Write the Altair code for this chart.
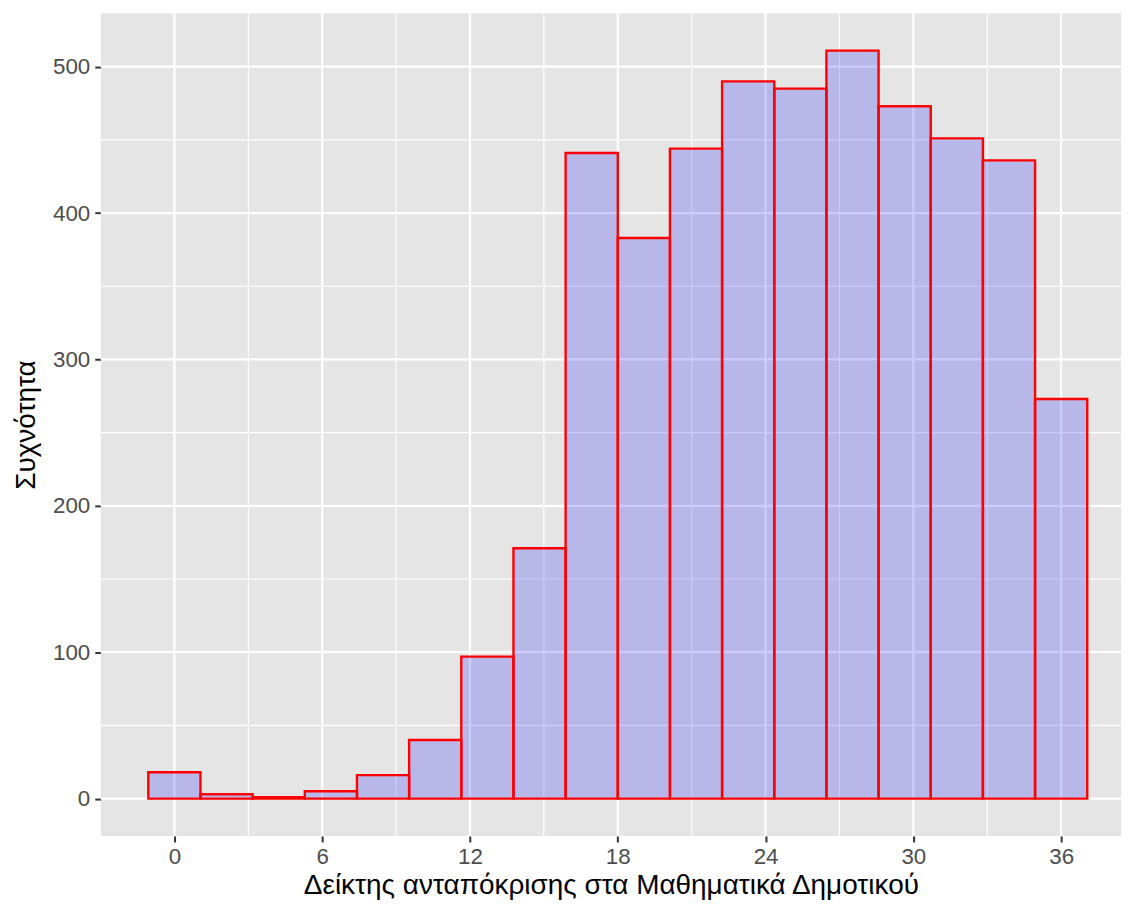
import altair as alt
import pandas as pd

# Histogram data (ggplot2-style, 18 bins centred on 0 ... 36)
binwidth = 36 / 17
bin_index = list(range(18))
counts = [18, 3, 1, 5, 16, 40, 97, 171, 441, 383, 444, 490, 485, 511, 473, 451, 436, 273]

x_major = [0, 6, 12, 18, 24, 30, 36]
x_minor = [3, 9, 15, 21, 27, 33]
y_major = [0, 100, 200, 300, 400, 500]
y_minor = [50, 150, 250, 350, 450]

x_title = "Δείκτης ανταπόκρισης στα Μαθηματικά Δημοτικού"
y_title = "Συχνότητα"

df = pd.DataFrame({"i": bin_index, "count": counts})
df["x1"] = df["i"] * binwidth - binwidth / 2
df["x2"] = df["i"] * binwidth + binwidth / 2

FONT = "Liberation Sans"
xscale = alt.Scale(domain=[-2.99, 38.43], nice=False, zero=False)
yscale = alt.Scale(domain=[-25.55, 536.55], nice=False, zero=False)

axis_common = dict(
    grid=False, domain=False, tickColor="#333333", tickWidth=2, tickSize=6,
    labelColor="#4D4D4D", labelFontSize=22.4, labelFont=FONT,
    titleFont=FONT, titleFontSize=28, titleColor="black", titleFontWeight="normal",
)
xaxis = alt.Axis(values=x_major, title=x_title, labelPadding=4, titlePadding=3, **axis_common)
yaxis = alt.Axis(values=y_major, title=y_title, labelPadding=5, titlePadding=12, **axis_common)

def xgrid(vals, w):
    return alt.Chart(pd.DataFrame({"x1": vals})).mark_rule(color="white", strokeWidth=w).encode(
        x=alt.X("x1:Q", scale=xscale, axis=xaxis)
    )

def ygrid(vals, w):
    return alt.Chart(pd.DataFrame({"count": vals})).mark_rule(color="white", strokeWidth=w).encode(
        y=alt.Y("count:Q", scale=yscale, axis=yaxis)
    )

bars = alt.Chart(df).mark_rect(
    fill="blue", fillOpacity=0.2, stroke="red", strokeWidth=2.4
).encode(
    x=alt.X("x1:Q", scale=xscale, axis=xaxis),
    x2="x2:Q",
    y=alt.Y("count:Q", scale=yscale, axis=yaxis),
    y2=alt.datum(0),
)

chart = alt.layer(
    xgrid(x_minor, 1.1), ygrid(y_minor, 1.1),
    xgrid(x_major, 2.2), ygrid(y_major, 2.2),
    bars,
).properties(
    width=1023, height=825,
    background="white",
    padding={"left": 4, "top": 2, "right": 0, "bottom": 0},
).configure_view(
    fill="#E5E5E5", stroke=None
)

chart.save("out.html", embed_options={"renderer": "svg", "actions": False})
